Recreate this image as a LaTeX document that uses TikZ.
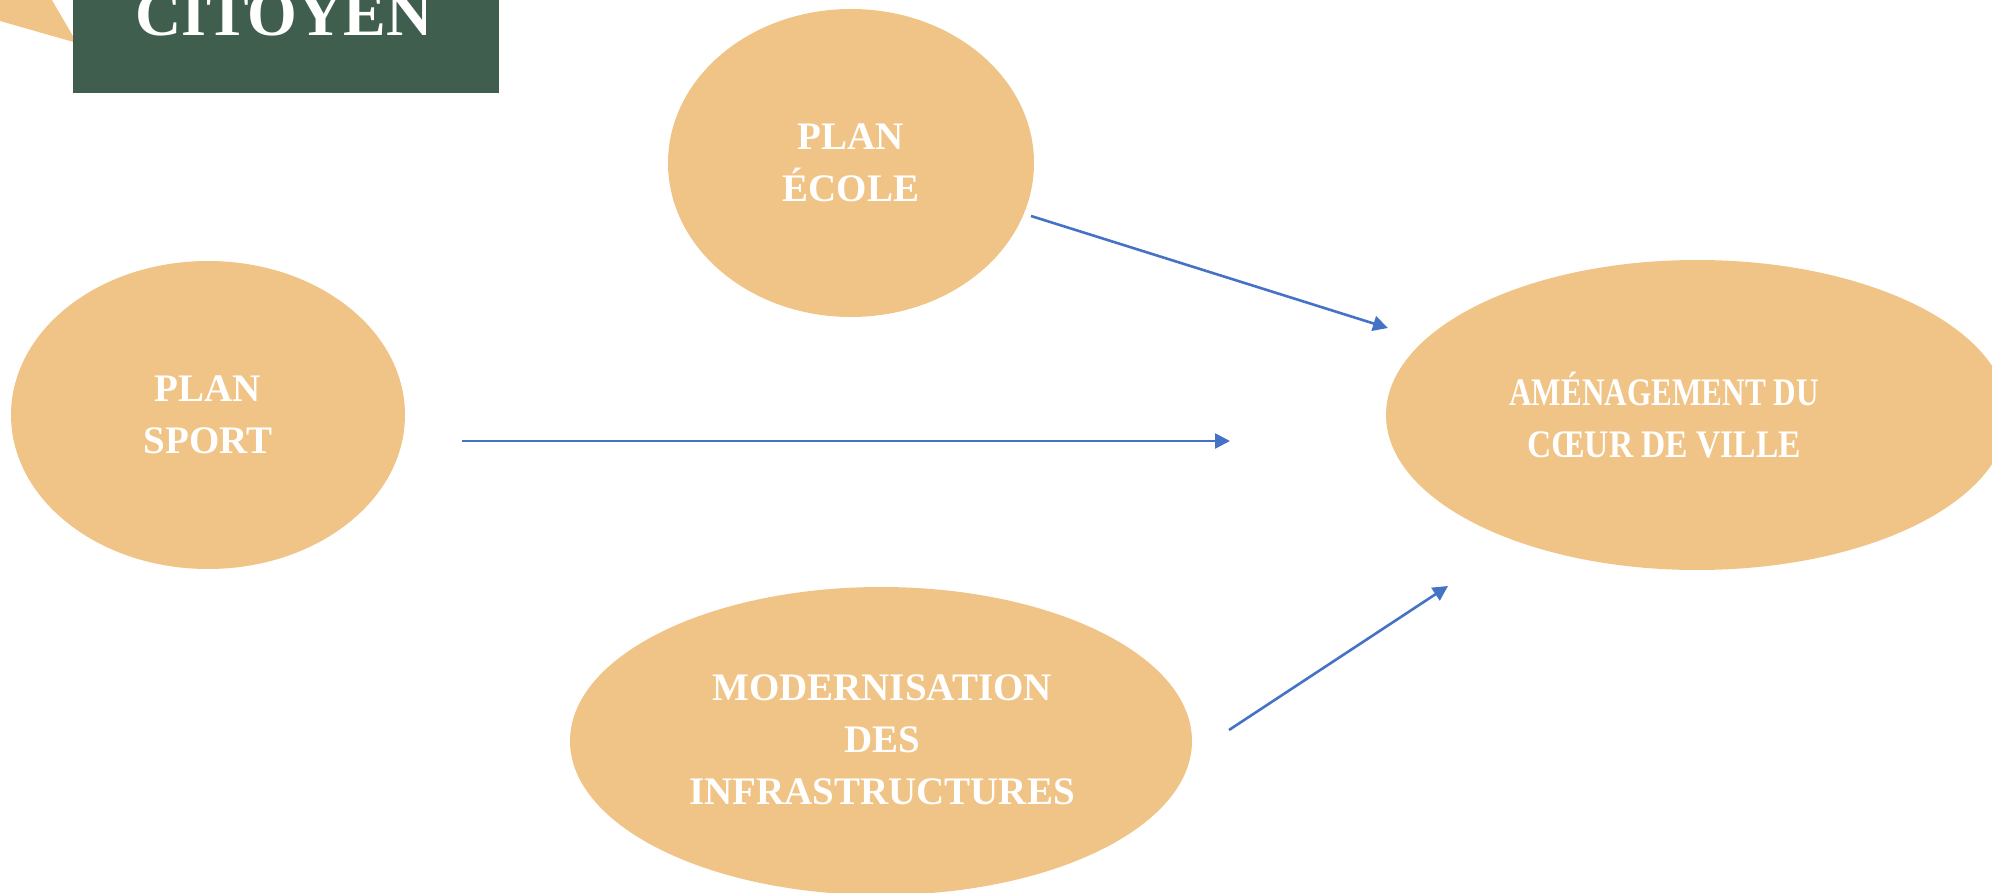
\documentclass[tikz,border=0pt]{standalone}
\usepackage{fontspec}
\setmainfont{Liberation Serif}
\usetikzlibrary{shapes.geometric,arrows.meta}
\definecolor{sand}{HTML}{F0C486}
\definecolor{forest}{HTML}{3F5E4E}
\definecolor{arrowblue}{HTML}{4472C4}
\begin{document}
\begin{tikzpicture}[x=1pt,y=-1pt,
  blob/.style={ellipse,fill=sand,draw=none,inner sep=0pt},
  lbl/.style={text=white,align=center,font=\fontsize{39}{52}\selectfont\bfseries},
  link/.style={draw=arrowblue,line width=2.6pt,-{Triangle[length=15pt,width=15pt]}}]
\useasboundingbox (0,0) rectangle (1992,893);
\clip (0,0) rectangle (1992,893);
% top-left decorations
\fill[sand] (0,-5) -- (49,-5) -- (77,43) -- (0,21) -- cycle;
\fill[forest] (73,-10) rectangle (499,93);
\node[text=white,font=\fontsize{64}{70}\selectfont\bfseries,anchor=base] (title) at (284,36) {CITOYEN};
% ellipses
\node[blob,minimum width=366pt,minimum height=308pt] (ecole) at (851,163) {};
\node[lbl] (ecoleT) at (851,163) {PLAN\\ÉCOLE};
\node[blob,minimum width=394pt,minimum height=308pt] (sport) at (208,415) {};
\node[lbl] (sportT) at (208,415) {PLAN\\SPORT};
\node[blob,minimum width=622pt,minimum height=310pt] (coeur) at (1697,415) {};
\node[lbl] (coeurT) at (1664,415) {\scalebox{0.8}[1]{AMÉNAGEMENT DU}\\\scalebox{0.86}[1]{CŒUR DE VILLE}};
\node[blob,minimum width=622pt,minimum height=308pt] (infra) at (881,741) {};
\node[lbl] (infraT) at (882,740) {MODERNISATION\\DES\\INFRASTRUCTURES};
% connector ends
\coordinate (a1) at (1031,216);
\coordinate (a1e) at (1388,328);
\coordinate (a2) at (462,441);
\coordinate (a2e) at (1230,441);
\coordinate (a3) at (1229,730);
\coordinate (a3e) at (1448,586);
\draw[link] (a1) -- (a1e);
\draw[link] (a2) -- (a2e);
\draw[link] (a3) -- (a3e);
\end{tikzpicture}
\end{document}
